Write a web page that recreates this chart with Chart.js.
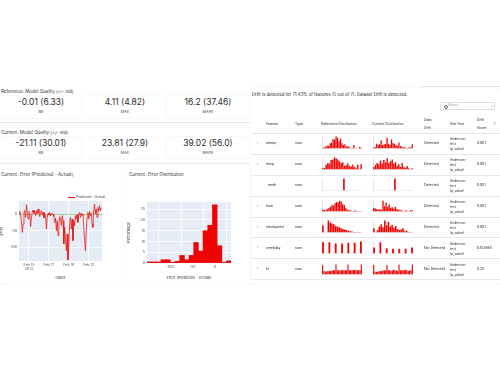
<!DOCTYPE html>
<html>
<head>
<meta charset="utf-8">
<script src="https://cdn.jsdelivr.net/npm/chart.js@4.4.0/dist/chart.umd.min.js"></script>
<style>
  body { margin: 0; width: 500px; height: 375px; background: #fff; position: relative; overflow: hidden;
         font-family: Inter, "Noto Sans", sans-serif; color: #222; }
  .abs { position: absolute; white-space: nowrap; line-height: 1.2; }
  .card { position: absolute; background: #fff; box-shadow: 0 0 1px rgba(0,0,0,.25); border-radius: 1px; }
  .hline { position: absolute; height: 0; border-top: 0.6px solid #e6e6e6; }
  canvas { position: absolute; }
</style>
</head>
<body>
<script>
// ---- data ----
const METRIC_NAMES = ['ME', 'MAE', 'MAPE'];
const REF_METRICS = ['-0.01 (6.33)', '4.11 (4.82)', '16.2 (37.46)'];
const CUR_METRICS = ['-21.11 (30.01)', '23.81 (27.9)', '39.02 (56.0)'];

// error (predicted - actual), one point every 2 hours starting Feb 14
const ERR_START_DAY = 14;
const ERR_STEP_DAYS = 1 / 12;
const errorValues = [0, 8, -5, -20, -55, -30, 5, 10, -10, 28, 5, -15, 8, 0, -38, -10, 5, 12, 2, 8,
  -5, 10, 0, 15, 2, -8, 5, 10, -3, 6, -12, 2, -5, -45, -10, 2, -3, 5, -6, 3,
  -2, 0, -8, -25, -12, -50, -20, -65, -30, -8, -15, -35, -5, -20, -90, -40, -70, -110, -60, -138,
  -95, -30, -10, -45, -15, -80, -20, -35, -5, -15, -2, -25, 0, 5, -10, 3, -5, 0, -40, -75,
  -110, -50, -10, 5, -15, 8, -5, 2, -30, -40, 10, 30, 0, 15, -10, 20, 8, 25, 10, 18];
const errDayTicks = [15, 17, 19, 21];

const errBinCenters = [-146, -135.6, -125.2, -114.8, -104.4, -94, -83.6, -73.2, -62.8, -52.4,
  -42, -31.6, -21.2, -10.8, -0.4, 10, 20.4, 30.8];
const errBinPercent = [0.5, 0.5, 0.5, 1.5, 1.5, 0.3, 0.8, 3.5, 1.5, 3.5,
  9.5, 5.5, 15, 17.5, 27, 8, 0.3, 1];
const errHistTicks = [-100, -50, 0];

const FEATURES = ['atemp', 'temp', 'mnth', 'hum', 'windspeed', 'weekday', 'hr'];
const FEATURE_TYPES = ['num', 'num', 'num', 'num', 'num', 'num', 'num'];
const DRIFT_LABELS = ['Detected', 'Detected', 'Detected', 'Detected', 'Detected', 'Not Detected', 'Not Detected'];
const DRIFT_SCORES = ['0.001', '0.001', '0.001', '0.001', '0.001', '0.153894', '0.25'];

const atempRef = [0.05, 0.1, 0.15, 0.25, 0.2, 0.45, 0.5, 0.8, 0.75, 1.0, 0.9, 0.6, 0.85, 0.45, 0.3, 0.35, 0.15, 0.2, 0.1, 0.05, 0.05, 0.3, 0.05, 0, 0.05, 0.15, 0.05];
const atempCur = [0.1, 0.1, 0.4, 0.3, 0.35, 0.7, 0.3, 0.35, 0.4, 0.9, 0.4, 0.3, 0.75, 0.45, 0.4, 0.3, 0.2, 0.5, 0.2, 0.15, 0.1, 0.1, 0.05, 0.05, 0.1, 0.1, 0.35];
const tempRef = [0.1, 0.15, 0.4, 0.55, 0.5, 0.8, 0.85, 1.0, 0.95, 0.85, 0.7, 0.55, 0.6, 0.3, 0.35, 0.5, 0.3, 0.25, 0.4, 0.2, 0.1, 0.4, 0.05, 0.45];
const tempCur = [0.2, 0.4, 0.55, 0.45, 0.75, 0.5, 0.8, 0.6, 0.95, 0.55, 0.7, 0.85, 0.5, 0.6, 0.3, 0.45, 0.2, 0.55, 0.2, 0.15, 0.3, 0.1, 0.05, 0.1];
const mnthRef = [0, 0, 0, 0, 0, 0, 0, 0, 0, 0, 0, 1, 0, 0, 0, 0, 0, 0, 0, 0, 0];
const mnthCur = [0, 0, 0, 0, 0, 0, 0, 0, 0, 0, 0, 1, 0, 0, 0, 0, 0, 0, 0, 0, 0];
const humRef = [0.15, 0.15, 0.1, 0.2, 0.3, 0.4, 0.55, 0.5, 0.7, 0.8, 0.75, 0.9, 0.85, 0.6, 0.55, 0.3, 0.15, 0.1, 0.1, 0.05, 0.05, 0.1, 0.05, 0.05, 0.05, 0.05];
const humCur = [0.3, 0.25, 0.2, 0.15, 0.2, 0.15, 0.9, 0.45, 0.75, 0.4, 0.6, 0.3, 0.35, 0.25, 0.4, 0.2, 0.15, 0.15, 0.1, 0.05, 0.05, 0.1, 0.05, 0.05, 0.1, 0.1];
const windRef = [0.6, 0, 0, 1.0, 0.85, 0.75, 0.7, 0.55, 0.5, 0.45, 0.35, 0.3, 0.25, 0.2, 0.15, 0.1, 0.08, 0.05, 0.05, 0, 0.05, 0.03];
const windCur = [0.35, 0, 0.2, 0.5, 0.7, 0.45, 1.0, 0.6, 0.9, 0.5, 0.65, 0.4, 0.55, 0.3, 0.2, 0.25, 0.35, 0.1, 0.15, 0.05, 0.05, 0.03];
const weekdayRef = [0.95, 0, 0, 0.95, 0, 0, 0.85, 0, 0, 0.85, 0, 0, 0.9, 0, 0, 0.9, 0, 0, 1.0];
const weekdayCur = [0.5, 0, 0, 0.95, 0, 0, 0.45, 0, 0, 0.4, 0, 0, 0.4, 0, 0, 0.4, 0, 0, 0.5];
const hrRef = [0.75, 0.3, 0.25, 0.25, 0.3, 0.3, 0.3, 0.35, 0.35, 0.35, 0.85, 0.35, 0.35, 0.35, 0.35, 0.4, 0.35, 0.35, 0.35, 0.85, 0.35, 0.35, 0.35, 0.35, 0.4, 0.35, 0.35, 0.35, 0.35, 0.85];
const hrCur = [0.8, 0.25, 0.2, 0.25, 0.25, 0.3, 0.3, 0.35, 0.35, 0.35, 0.8, 0.35, 0.35, 0.3, 0.35, 0.4, 0.35, 0.35, 0.3, 0.85, 0.35, 0.35, 0.35, 0.35, 0.4, 0.35, 0.3, 0.35, 0.35, 0.85];
const REF_DISTS = [atempRef, tempRef, mnthRef, humRef, windRef, weekdayRef, hrRef];
const CUR_DISTS = [atempCur, tempCur, mnthCur, humCur, windCur, weekdayCur, hrCur];

const RED = '#ed0400';
const PLOT_BG = '#e5ecf6';
const TICK_COLOR = '#555';

// ---- helpers ----
const addBox = (cls, x, y, w, h) => {
  const d = document.createElement('div');
  d.className = cls;
  Object.assign(d.style, {left: x + 'px', top: y + 'px', width: w + 'px', height: h + 'px'});
  document.body.appendChild(d);
  return d;
};

const addText = (str, x, y, size, align, extra) => {
  const lines = str.split('\n').length;
  const d = document.createElement('div');
  d.className = 'abs';
  d.textContent = str;
  d.style.whiteSpace = 'pre';
  d.style.left = x + 'px';
  d.style.top = (y - lines * size * 0.6) + 'px';
  d.style.fontSize = size + 'px';
  if (align === 'center') d.style.transform = 'translateX(-50%)';
  if (align === 'right') d.style.transform = 'translateX(-100%)';
  Object.assign(d.style, extra || {});
  document.body.appendChild(d);
  return d;
};

const addLine = (x, y, w) => addBox('hline', x, y, w, 0);

const addCanvas = (x, y, w, h) => {
  const c = document.createElement('canvas');
  c.width = w;
  c.height = h;
  c.style.left = x + 'px';
  c.style.top = y + 'px';
  document.body.appendChild(c);
  return c;
};

const plotBg = {
  id: 'plotBg',
  beforeDraw(chart) {
    const {ctx, chartArea: a} = chart;
    ctx.save();
    ctx.fillStyle = PLOT_BG;
    ctx.fillRect(a.left, a.top, a.width, a.height);
    ctx.restore();
  }
};

Chart.defaults.font.family = 'Inter, "Noto Sans", sans-serif';
Chart.defaults.animation = false;
Chart.defaults.responsive = false;
Chart.defaults.events = [];

// ---- model quality cards ----
const CARD_X = [0, 84, 167];
const drawMetricRow = (title, titleY, cardY, values) => {
  addText(title, 1, titleY, 4.5, 'left', {color: '#333'});
  for (let i = 0; i < values.length; i++) {
    addBox('card', CARD_X[i], cardY, 81, 22);
    addText(values[i], CARD_X[i] + 41, cardY + 6, 8.5, 'center', {color: '#2b2b2b'});
    addText(METRIC_NAMES[i], CARD_X[i] + 41, cardY + 16.5, 3.8, 'center', {color: '#444'});
  }
};
drawMetricRow('Reference: Model Quality (+/- std)', 92, 96, REF_METRICS);
drawMetricRow('Current: Model Quality (+/- std)', 133, 137, CUR_METRICS);
addLine(0, 122, 250);
addLine(0, 163, 250);

// ---- error line chart ----
addBox('card', 0, 166, 122, 118);
addText('Current: Error (Predicted - Actual)', 1, 175, 4.5, 'left', {color: '#333'});
addBox('abs', 68, 196.8, 7, 0).style.borderTop = '0.8px solid ' + RED;
addText('Predicted - Actual', 76, 197, 3.4, 'left', {color: '#444'});

new Chart(addCanvas(0, 185, 122, 95), {
  type: 'line',
  data: {
    datasets: [{
      label: 'Predicted - Actual',
      data: errorValues.map((y, i) => ({x: ERR_START_DAY + i * ERR_STEP_DAYS, y: y})),
      borderColor: RED,
      borderWidth: 0.7,
      pointRadius: 0,
      tension: 0
    }]
  },
  options: {
    layout: {padding: {top: 16, right: 20, left: 0, bottom: 0}},
    plugins: {legend: {display: false}, tooltip: {enabled: false}},
    scales: {
      x: {
        type: 'linear', min: 14, max: 22.33,
        afterBuildTicks: (axis) => { axis.ticks = errDayTicks.map(v => ({value: v})); },
        afterFit: (s) => { s.height = 19; },
        ticks: {
          font: {size: 3.6}, color: TICK_COLOR, padding: 1.5, maxRotation: 0, autoSkip: false,
          callback: (v) => v === 15 ? ['Feb 15', '2013'] : 'Feb ' + v
        },
        grid: {color: '#fff', lineWidth: 0.8, drawTicks: false},
        border: {display: false},
        title: {display: true, text: 'Index', font: {size: 3.8}, color: '#444', padding: 0}
      },
      y: {
        min: -141, max: 39,
        afterFit: (s) => { s.width = 19; },
        ticks: {stepSize: 50, includeBounds: false, font: {size: 3.6}, color: TICK_COLOR, padding: 2},
        grid: {
          color: (c) => c.tick && c.tick.value === 0 ? 'rgba(140,190,110,0.8)' : '#fff',
          lineWidth: 0.8, drawTicks: false
        },
        border: {display: false},
        title: {display: true, text: 'Error', font: {size: 3.8}, color: '#444', padding: 0}
      }
    }
  },
  plugins: [plotBg]
});

// ---- error distribution ----
addBox('card', 127, 166, 123, 118);
addText('Current: Error Distribution', 129, 175, 4.5, 'left', {color: '#333'});

new Chart(addCanvas(127, 185, 121, 95), {
  type: 'bar',
  data: {
    datasets: [{
      data: errBinCenters.map((c, i) => ({x: c, y: errBinPercent[i]})),
      backgroundColor: RED,
      borderWidth: 0,
      barPercentage: 1,
      categoryPercentage: 1
    }]
  },
  options: {
    layout: {padding: {top: 17, right: 17, left: 0, bottom: 0}},
    plugins: {legend: {display: false}, tooltip: {enabled: false}},
    scales: {
      x: {
        type: 'linear', min: -151, max: 35.6, offset: false,
        afterBuildTicks: (axis) => { axis.ticks = errHistTicks.map(v => ({value: v})); },
        afterFit: (s) => { s.height = 17; },
        ticks: {font: {size: 3.6}, color: TICK_COLOR, padding: 1.5, maxRotation: 0, autoSkip: false},
        grid: {color: '#fff', lineWidth: 0.8, drawTicks: false},
        border: {display: false},
        title: {display: true, text: 'Error (Predicted - Actual)', font: {size: 3.8}, color: '#444', padding: 0}
      },
      y: {
        min: 0, max: 28.3,
        afterFit: (s) => { s.width = 20; },
        ticks: {stepSize: 5, includeBounds: false, font: {size: 3.6}, color: TICK_COLOR, padding: 2},
        grid: {color: '#fff', lineWidth: 0.8, drawTicks: false},
        border: {display: false},
        title: {display: true, text: 'Percentage', font: {size: 3.8}, color: '#444', padding: 0}
      }
    }
  },
  plugins: [plotBg]
});

// ---- data drift table ----
addLine(420, 86, 80);
addBox('card', 251, 88, 249, 196);
addText('Drift is detected for 71.43% of features (5 out of 7). Dataset Drift is detected.', 252, 95, 4.3, 'left', {color: '#222'});

const search = addBox('abs', 440, 102, 55, 8);
Object.assign(search.style, {border: '0.5px solid #ddd', borderRadius: '1px', boxSizing: 'border-box'});
const lens = addBox('abs', 444, 104.5, 2, 2);
Object.assign(lens.style, {border: '0.5px solid #666', borderRadius: '50%'});
addText('Search', 448, 106, 3.2, 'left', {color: '#aaa'});
addText('×', 492, 106, 4, 'center', {color: '#aaa'});

const HEADER_Y = 124;
addText('Feature', 266, HEADER_Y, 3.4, 'left');
addText('Type', 295, HEADER_Y, 3.4, 'left');
addText('Reference Distribution', 321, HEADER_Y, 3.4, 'left');
addText('Current Distribution', 372, HEADER_Y, 3.4, 'left');
addText('Data\n\nDrift', 424, HEADER_Y, 3.4, 'left');
addText('Stat Test', 450, HEADER_Y, 3.4, 'left');
addText('Drift\n\nScore', 477, HEADER_Y, 3.4, 'left');
addText('↑', 493, HEADER_Y, 3.6, 'left', {color: '#666'});
addLine(252, 133.3, 248);

const ROW_Y0 = 143.3;
const ROW_H = 20.9;

const sparkline = (x, y, values) => {
  new Chart(addCanvas(x, y, 41, 13), {
    type: 'bar',
    data: {
      labels: values.map((_, i) => i),
      datasets: [{data: values, backgroundColor: RED, borderWidth: 0, barPercentage: 0.86, categoryPercentage: 1}]
    },
    options: {
      layout: {padding: 0},
      plugins: {legend: {display: false}, tooltip: {enabled: false}},
      scales: {
        x: {
          grid: {display: false}, ticks: {display: false},
          border: {color: '#ddd', width: 0.5},
          afterFit: (s) => { s.height = 0.5; }
        },
        y: {
          min: 0, max: 1.05,
          grid: {display: false}, ticks: {display: false},
          border: {color: '#ccc', width: 0.5, dash: [1, 1]},
          afterFit: (s) => { s.width = 1; }
        }
      }
    }
  });
};

for (let i = 0; i < FEATURES.length; i++) {
  const cy = ROW_Y0 + i * ROW_H;
  if (FEATURES[i] !== 'mnth') {
    addText('›', 257, cy, 4, 'left', {color: '#555'});
  }
  addText(FEATURES[i], FEATURES[i] === 'mnth' ? 268 : 266, cy, 3.4, 'left');
  addText(FEATURE_TYPES[i], 295, cy, 3.4, 'left');
  sparkline(321, cy - 7, REF_DISTS[i]);
  sparkline(372, cy - 7, CUR_DISTS[i]);
  addText(DRIFT_LABELS[i], 424, cy, 3.4, 'left');
  addText('Anderson-\ntest\n(p_value)', 450, cy, 3.3, 'left', {lineHeight: '1.5'});
  addText(DRIFT_SCORES[i], 477, cy, 3.4, 'left');
  addLine(252, cy + 10.5, 248);
}
</script>
</body>
</html>
